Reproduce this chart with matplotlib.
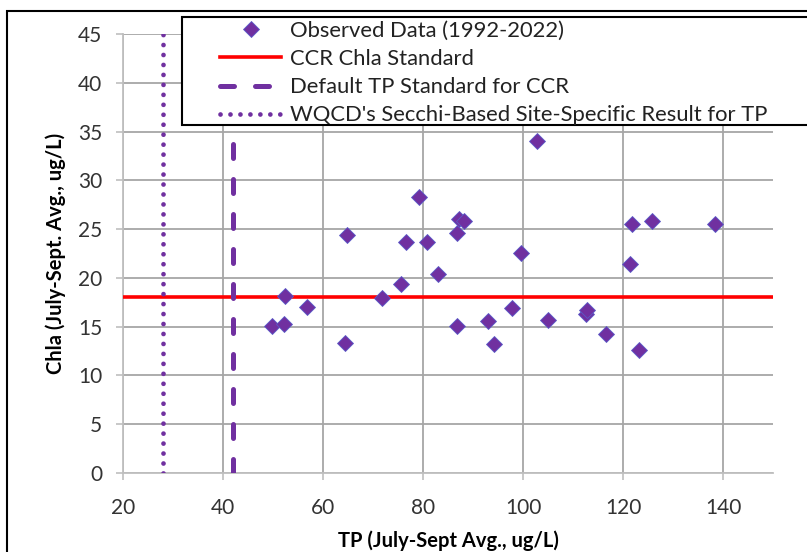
import matplotlib
matplotlib.use("Agg")
import matplotlib.pyplot as plt
from matplotlib.lines import Line2D
from matplotlib.patches import Rectangle

# TP vs. Chla, summer averages
tp = [49.7, 52.1, 52.3, 56.7, 64.7, 64.4, 71.7, 75.6, 76.5, 79.1,
      80.7, 83.0, 86.7, 87.1, 88.1, 86.7, 93.0, 94.1, 97.8, 99.5,
      102.7, 104.9, 112.5, 112.7, 116.6, 121.3, 121.7, 123.1, 125.8, 138.4]
chla = [15.1, 15.3, 18.1, 17.0, 24.4, 13.3, 17.9, 19.4, 23.7, 28.3,
        23.7, 20.4, 24.6, 26.0, 25.8, 15.1, 15.6, 13.2, 16.9, 22.5,
        34.0, 15.7, 16.3, 16.7, 14.2, 21.4, 25.5, 12.6, 25.8, 25.5]

chla_std = 18
tp_default = 42
tp_secchi = 28

xticks = [20, 40, 60, 80, 100, 120, 140]
yticks = [0, 5, 10, 15, 20, 25, 30, 35, 40, 45]

purple = "#7030A0"
grid_c = "#a6a6a6"

plt.rcParams["font.family"] = ["Lato", "DejaVu Sans"]

W, H = 807, 552
fig = plt.figure(figsize=(W / 100, H / 100), dpi=100)
ax = fig.add_axes([123 / W, 1 - 473 / H, 650 / W, 439 / H])

ax.set_xlim(20, 150)
ax.set_ylim(0, 45)
ax.set_xticks(xticks)
ax.set_yticks(yticks)
ax.grid(True, color=grid_c, linewidth=1.3)
ax.set_axisbelow(True)
for s in ["top", "right"]:
    ax.spines[s].set_visible(False)
for s in ["left", "bottom"]:
    ax.spines[s].set_color("#bfbfbf")
    ax.spines[s].set_linewidth(1.3)
ax.tick_params(colors="#bfbfbf", length=5, width=1.2, labelsize=15,
               labelcolor="#333333")
ax.tick_params(axis="y", pad=10)
ax.tick_params(axis="x", pad=13)

ax.axhline(chla_std, color="red", linewidth=2.6, zorder=3)
ax.axvline(tp_default, color=purple, linewidth=3.6, zorder=3,
           linestyle=(0, (2.8, 4.2)), dash_capstyle="round")
ax.axvline(tp_secchi, color=purple, linewidth=3.4, zorder=3,
           linestyle=(0, (0.01, 2.1)), dash_capstyle="round")
ax.plot(tp, chla, linestyle="none", marker="D", markersize=8,
        markerfacecolor=purple, markeredgecolor="#5a5ac8",
        markeredgewidth=0.6, zorder=4)

ax.set_xlabel("TP (July-Sept Avg., ug/L)", fontsize=14.5, fontweight="bold",
              labelpad=9)
ax.set_ylabel("Chla (July-Sept. Avg., ug/L)", fontsize=14.5,
              fontweight="bold")
ax.yaxis.set_label_coords(-0.088, 0.5)

# outer chart border and legend box
fig.add_artist(Rectangle((7 / W, -0.1), 1.2, 1 - 11 / H + 0.1,
                         transform=fig.transFigure, fill=False,
                         edgecolor="black", linewidth=1.5))
fig.add_artist(Rectangle((182 / W, 1 - 125 / H), 1.0, 108 / H,
                         transform=fig.transFigure, facecolor="white",
                         edgecolor="black", linewidth=1.5, zorder=5))

handles = [
    Line2D([], [], linestyle="none", marker="D", markersize=8,
           markerfacecolor=purple, markeredgecolor="#5a5ac8",
           markeredgewidth=0.6),
    Line2D([], [], color="red", linewidth=2.6),
    Line2D([], [], color=purple, linewidth=3.6, linestyle=(0, (2.8, 4.2)),
           dash_capstyle="round"),
    Line2D([], [], color=purple, linewidth=3.4, linestyle=(0, (0.01, 2.1)),
           dash_capstyle="round"),
]
labels = ["Observed Data (1992-2022)", "CCR Chla Standard",
          "Default TP Standard for CCR",
          "WQCD's Secchi-Based Site-Specific Result for TP"]
leg = fig.legend(handles, labels, loc="upper left",
                 bbox_to_anchor=(220 / W, 1 - 21 / H), frameon=False,
                 fontsize=15.8, handlelength=2.8, handletextpad=0.4,
                 labelspacing=0.37, borderpad=0, borderaxespad=0)
leg.set_zorder(6)
for t in leg.get_texts():
    t.set_color("#222222")

fig.savefig("out.png", dpi=100)
